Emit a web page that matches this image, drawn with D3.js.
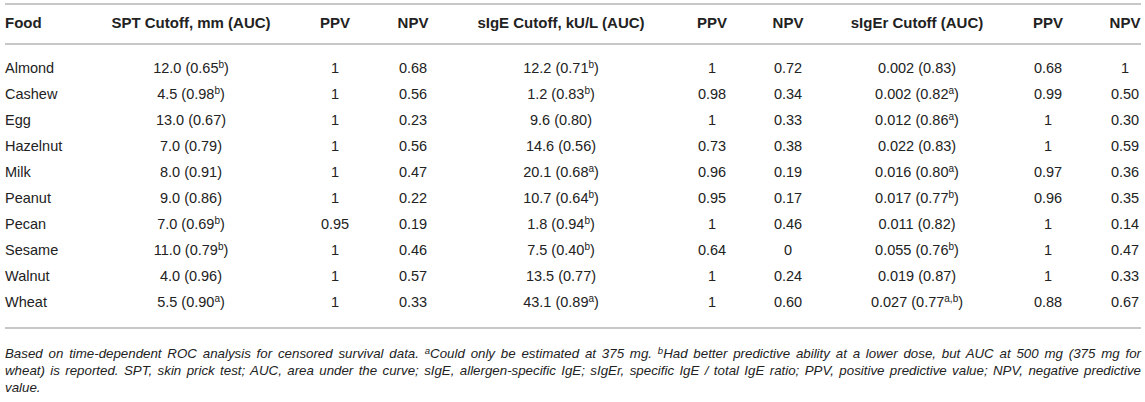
<!DOCTYPE html>
<html>
<head>
<meta charset="utf-8">
<script src="https://cdn.jsdelivr.net/npm/d3@7"></script>
<style>
  body { margin: 0; background: #fff; }
  svg text { font-family: "Liberation Sans", Arial, sans-serif; fill: #222; }
</style>
</head>
<body>
<div id="chart"></div>
<script>
// table values
const foods = ["Almond", "Cashew", "Egg", "Hazelnut", "Milk", "Peanut", "Pecan", "Sesame", "Walnut", "Wheat"];

const sptCut = ["12.0", "4.5", "13.0", "7.0", "8.0", "9.0", "7.0", "11.0", "4.0", "5.5"];
const sptAuc = ["0.65", "0.98", "0.67", "0.79", "0.91", "0.86", "0.69", "0.79", "0.96", "0.90"];
const sptSup = ["b", "b", "", "", "", "", "b", "b", "", "a"];
const sptPpv = ["1", "1", "1", "1", "1", "1", "0.95", "1", "1", "1"];
const sptNpv = ["0.68", "0.56", "0.23", "0.56", "0.47", "0.22", "0.19", "0.46", "0.57", "0.33"];

const sigeCut = ["12.2", "1.2", "9.6", "14.6", "20.1", "10.7", "1.8", "7.5", "13.5", "43.1"];
const sigeAuc = ["0.71", "0.83", "0.80", "0.56", "0.68", "0.64", "0.94", "0.40", "0.77", "0.89"];
const sigeSup = ["b", "b", "", "", "a", "b", "b", "b", "", "a"];
const sigePpv = ["1", "0.98", "1", "0.73", "0.96", "0.95", "1", "0.64", "1", "1"];
const sigeNpv = ["0.72", "0.34", "0.33", "0.38", "0.19", "0.17", "0.46", "0", "0.24", "0.60"];

const sigerCut = ["0.002", "0.002", "0.012", "0.022", "0.016", "0.017", "0.011", "0.055", "0.019", "0.027"];
const sigerAuc = ["0.83", "0.82", "0.86", "0.83", "0.80", "0.77", "0.82", "0.76", "0.87", "0.77"];
const sigerSup = ["", "a", "a", "", "a", "b", "", "b", "", "a,b"];
const sigerPpv = ["0.68", "0.99", "1", "1", "0.97", "0.96", "1", "1", "1", "0.88"];
const sigerNpv = ["1", "0.50", "0.30", "0.59", "0.36", "0.35", "0.14", "0.47", "0.33", "0.67"];

const headers = ["Food", "SPT Cutoff, mm (AUC)", "PPV", "NPV", "sIgE Cutoff, kU/L (AUC)", "PPV", "NPV", "sIgEr Cutoff (AUC)", "PPV", "NPV"];
const colKeys = ["food", "spt", "sptPpv", "sptNpv", "sige", "sigePpv", "sigeNpv", "siger", "sigerPpv", "sigerNpv"];

const footLines = [
  [["Based on time-dependent ROC analysis for censored survival data. ", false], ["a", true], ["Could only be estimated at 375 mg. ", false], ["b", true], ["Had better predictive ability at a lower dose, but AUC at 500 mg (375 mg for", false]],
  [["wheat) is reported. SPT, skin prick test; AUC, area under the curve; sIgE, allergen-specific IgE; sIgEr, specific IgE / total IgE ratio; PPV, positive predictive value; NPV, negative predictive", false]],
  [["value.", false]]
];

const width = 1145, height = 402;
const svg = d3.select("#chart").append("svg")
  .attr("width", width)
  .attr("height", height);

// column centres (food column is left aligned)
const x = d3.scaleOrdinal()
  .domain(colKeys)
  .range([5, 191, 335, 413, 561, 712, 788, 917, 1048, 1125]);

const y = d3.scaleBand()
  .domain(foods)
  .range([55, 315]);

const rules = [4, 44, 328];
svg.selectAll("line.rule")
  .data(rules)
  .enter()
  .append("line")
    .attr("class", "rule")
    .attr("x1", 5)
    .attr("x2", 1141)
    .attr("y1", d => d)
    .attr("y2", d => d)
    .attr("stroke", "#b4b4b4")
    .attr("stroke-width", 1.6);

// header
svg.selectAll("text.head")
  .data(headers)
  .enter()
  .append("text")
    .attr("class", "head")
    .attr("x", (d, i) => x(colKeys[i]))
    .attr("y", 28)
    .attr("text-anchor", (d, i) => i == 0 ? "start" : "middle")
    .attr("font-size", 15)
    .attr("font-weight", "bold")
    .text(d => d);

// build rows
const rows = foods.map((f, i) => ({
  food: [f, ""],
  spt: [sptCut[i] + " (" + sptAuc[i], sptSup[i]],
  sptPpv: [sptPpv[i], ""],
  sptNpv: [sptNpv[i], ""],
  sige: [sigeCut[i] + " (" + sigeAuc[i], sigeSup[i]],
  sigePpv: [sigePpv[i], ""],
  sigeNpv: [sigeNpv[i], ""],
  siger: [sigerCut[i] + " (" + sigerAuc[i], sigerSup[i]],
  sigerPpv: [sigerPpv[i], ""],
  sigerNpv: [sigerNpv[i], ""]
}));

const rowG = svg.selectAll("g.row")
  .data(rows)
  .enter()
  .append("g")
    .attr("class", "row")
    .attr("transform", (d, i) => "translate(0," + (y(foods[i]) + y.bandwidth() / 2 + 5) + ")");

colKeys.forEach((k, ci) => {
  const t = rowG.append("text")
    .attr("x", x(k))
    .attr("y", 0)
    .attr("text-anchor", ci == 0 ? "start" : "middle")
    .attr("font-size", 14.5);
  t.append("tspan").text(d => d[k][0]);
  t.filter(d => d[k][0].indexOf("(") >= 0).each(function(d) {
    const el = d3.select(this);
    if (d[k][1] != "") {
      el.append("tspan").attr("dy", -5).attr("font-size", 10).text(d[k][1]);
      el.append("tspan").attr("dy", 5).text(")");
    } else {
      el.append("tspan").text(")");
    }
  });
});

// footnote, justified to the table width
const footY = [354, 371, 388];
footLines.forEach((parts, li) => {
  const t = svg.append("text")
    .attr("x", 5)
    .attr("y", footY[li])
    .attr("font-size", 13.3)
    .attr("font-style", "italic")
    .attr("fill", "#333");
  parts.forEach(p => {
    if (p[1]) {
      t.append("tspan").attr("dy", -4).attr("font-size", 9.5).text(p[0]);
    } else {
      t.append("tspan").attr("dy", t.selectAll("tspan").size() > 0 ? 4 : 0).text(p[0]);
    }
  });
  if (li < 2) {
    const natural = t.node().getComputedTextLength();
    const spaces = parts.map(p => p[0]).join("").split(" ").length - 1;
    const extra = Math.max(0, (1136 - natural) / spaces);
    t.attr("word-spacing", extra);
  }
});
</script>
</body>
</html>
